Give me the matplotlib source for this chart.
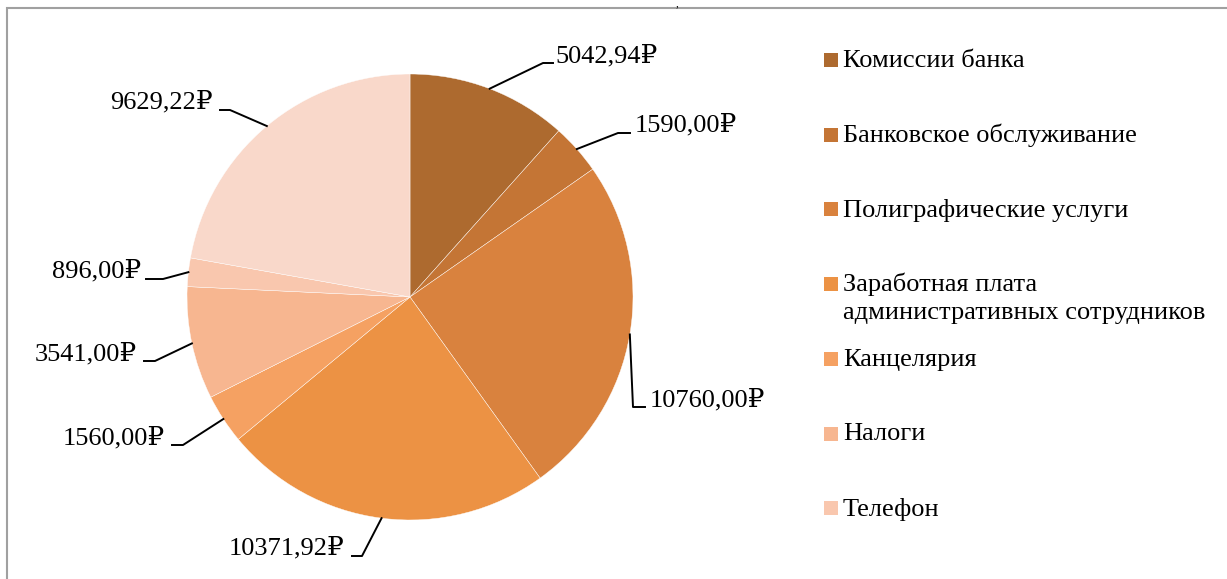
import matplotlib.pyplot as plt
from matplotlib.patches import Rectangle
import numpy as np

categories = ['Комиссии банка', 'Банковское обслуживание', 'Полиграфические услуги',
              'Заработная плата\nадминистративных сотрудников', 'Канцелярия', 'Налоги',
              'Телефон', '']
values = [5042.94, 1590.00, 10760.00, 10371.92, 1560.00, 3541.00, 896.00, 9629.22]
colors = ['#AD6A2F', '#C47535', '#D9823E', '#EC9244', '#F5A162', '#F7B690', '#F9C7AE', '#F9D8CA']

# label layout in pixels: text anchor x, text centre y, elbow, end of leader
label_pos = [(555, 56, 'left'), (635, 125, 'left'), (650, 400, 'left'), (345, 548, 'right'),
             (165, 438, 'right'), (137, 354, 'right'), (141, 271, 'right'), (213, 102, 'right')]
elbows = [((543, 63), (553, 63)), ((618, 133), (630, 133)), ((633, 407), (645, 407)),
          ((362, 556), (352, 556)), ((183, 445), (172, 445)), ((155, 361), (144, 361)),
          ((163, 279), (146, 279)), ((230, 110), (220, 110))]

W, H = 1227, 579
CX, CY, R = 410, 297, 223
FONT = ['Liberation Serif', 'DejaVu Serif']
FS = 19


def to_data(px, py):
    return (px - CX) / R, (CY - py) / R


fig = plt.figure(figsize=(W / 100, H / 100), dpi=100)
ax = fig.add_axes([0, 0, 1, 1])
ax.axis('off')

# chart frame (cut off on right/bottom)
ax.add_patch(Rectangle(to_data(7, H + 10), (W + 20) / R, (H + 2) / R,
                       fill=False, edgecolor='#A0A0A0', linewidth=1.5, clip_on=False))

wedges, _ = ax.pie(values, colors=colors, startangle=90, counterclock=False,
                   radius=1, center=(0, 0),
                   wedgeprops=dict(edgecolor='white', linewidth=0.3))
ax.set_xlim(-CX / R, (W - CX) / R)
ax.set_ylim(-(H - CY) / R, CY / R)
ax.set_aspect('equal')

for w, v, (tx, ty, ha), (el, end) in zip(wedges, values, label_pos, elbows):
    ang = np.deg2rad((w.theta1 + w.theta2) / 2)
    ax0, ay0 = np.cos(ang), np.sin(ang)
    ex, ey = to_data(*el)
    nx, ny = to_data(*end)
    ax.plot([ax0, ex, nx], [ay0, ey, ny], color='black', linewidth=1.4)
    txt = f"{v:.2f}".replace('.', ',') + '₽'
    x, y = to_data(tx, ty)
    ax.text(x, y, txt, ha=ha, va='center', fontsize=FS, family=FONT)

# legend drawn by hand, Excel-style equal slots
for i, (name, c) in enumerate(zip(categories[:7], colors[:7])):
    sy = 60 + i * 74.7
    x0, y0 = to_data(824, sy + 7)
    ax.add_patch(Rectangle((x0, y0), 14 / R, 14 / R, color=c, linewidth=0))
    lx, ly = to_data(843, sy + 1)
    if '\n' in name:
        lx, ly = to_data(843, sy - 12)
        ax.text(lx, ly, name, ha='left', va='top', fontsize=FS, family=FONT, linespacing=1.4)
    else:
        ax.text(lx, ly, name, ha='left', va='center', fontsize=FS, family=FONT)

fig.text(677 / W, 1 - 4 / H, ',', ha='center', va='center', fontsize=8, family=FONT)

fig.savefig('out.png', dpi=100)
